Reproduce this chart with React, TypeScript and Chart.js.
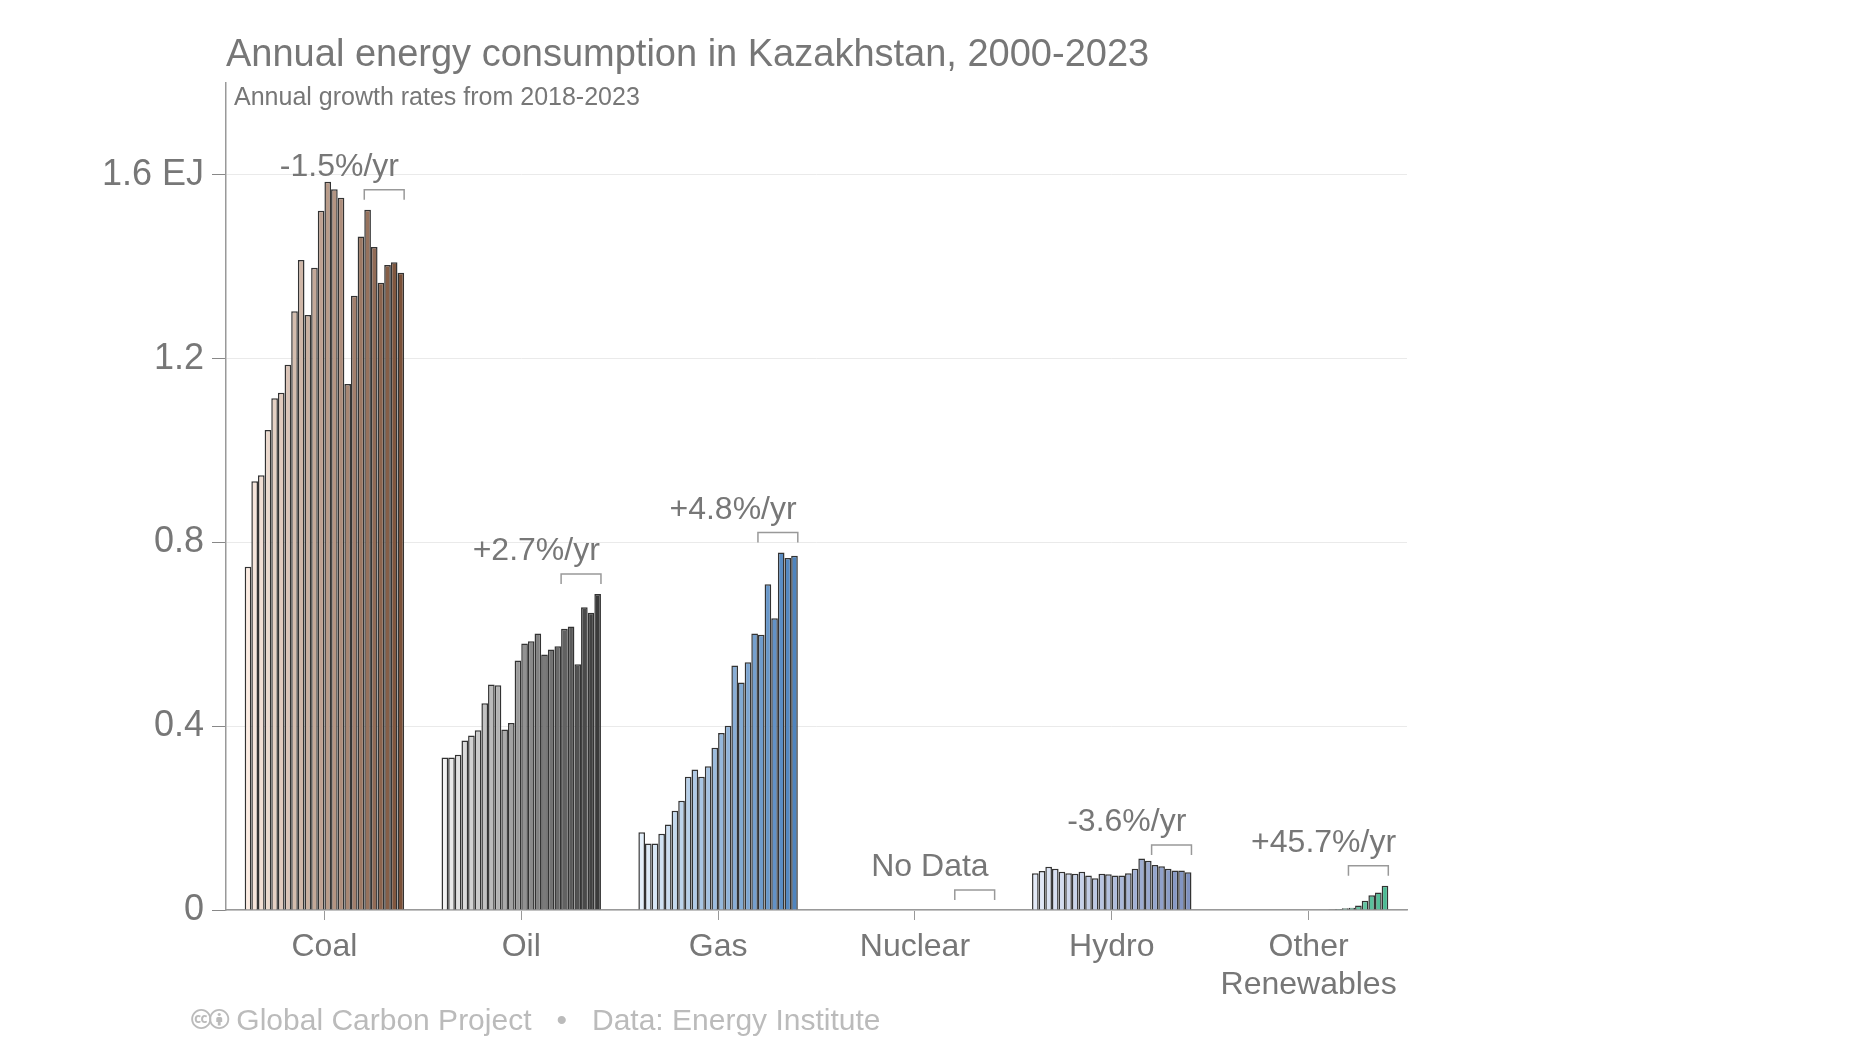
import { useEffect, useRef } from "react"
import { Chart, registerables, type ChartConfiguration } from "chart.js"

Chart.register(...registerables)

const categories = ["Coal", "Oil", "Gas", "Nuclear", "Hydro", ["Other", "Renewables"]]
const years = Array.from({ length: 24 }, (_, i) => 2000 + i)

const coal = [0.747, 0.933, 0.946, 1.045, 1.114, 1.126, 1.187, 1.303, 1.415, 1.295, 1.398, 1.522, 1.585, 1.569, 1.55, 1.145, 1.337, 1.466, 1.524, 1.443, 1.365, 1.404, 1.41, 1.387]
const oil = [0.332, 0.332, 0.338, 0.369, 0.38, 0.391, 0.45, 0.491, 0.489, 0.393, 0.407, 0.543, 0.58, 0.585, 0.602, 0.556, 0.567, 0.574, 0.612, 0.617, 0.535, 0.659, 0.647, 0.688]
const gas = [0.169, 0.145, 0.145, 0.166, 0.186, 0.216, 0.238, 0.29, 0.306, 0.29, 0.313, 0.353, 0.385, 0.401, 0.532, 0.495, 0.539, 0.602, 0.599, 0.709, 0.635, 0.778, 0.766, 0.771]
const nuclear = [0, 0, 0, 0, 0, 0, 0, 0, 0, 0, 0, 0, 0, 0, 0, 0, 0, 0, 0, 0, 0, 0, 0, 0]
const hydro = [0.08, 0.085, 0.094, 0.09, 0.083, 0.08, 0.079, 0.083, 0.075, 0.069, 0.079, 0.078, 0.075, 0.075, 0.08, 0.09, 0.112, 0.107, 0.098, 0.095, 0.09, 0.086, 0.086, 0.082]
const otherRenewables = [0, 0, 0, 0, 0, 0, 0, 0, 0, 0, 0, 0, 0, 0, 0.001, 0.0015, 0.002, 0.004, 0.005, 0.01, 0.02, 0.032, 0.038, 0.053]
const growthLabels = ["-1.5%/yr", "+2.7%/yr", "+4.8%/yr", "No Data", "-3.6%/yr", "+45.7%/yr"]
const yTicks = [0, 0.4, 0.8, 1.2, 1.6]

const series = [coal, oil, gas, nuclear, hydro, otherRenewables]
// light -> dark colour ramp per fuel
const ramps: [number[], number[]][] = [
  [[252, 236, 226], [122, 80, 56]],
  [[242, 242, 242], [58, 58, 58]],
  [[228, 240, 251], [78, 132, 190]],
  [[90, 90, 90], [60, 60, 60]],
  [[228, 235, 249], [126, 145, 192]],
  [[232, 246, 238], [76, 187, 148]],
]

function mix(r: [number[], number[]], t: number) {
  const c = r[0].map((a, i) => Math.round(a + (r[1][i] - a) * t))
  return `rgb(${c[0]},${c[1]},${c[2]})`
}

const FONT = "Helvetica, 'Liberation Sans', Arial, sans-serif"

const annotations = {
  id: "annotations",
  afterDatasetsDraw(chart: Chart) {
    const { ctx } = chart
    const y = chart.scales.y
    const x = chart.scales.x
    ctx.save()
    series.forEach((vals, c) => {
      const first = chart.getDatasetMeta(18).data[c] as any
      const last = chart.getDatasetMeta(23).data[c] as any
      const x0 = first.x - first.width / 2
      const x1 = last.x + last.width / 2
      const top = y.getPixelForValue(Math.max(...vals.slice(18))) - 20
      ctx.strokeStyle = "#999"
      ctx.lineWidth = 1.5
      ctx.beginPath()
      ctx.moveTo(x0, top + 10)
      ctx.lineTo(x0, top)
      ctx.lineTo(x1, top)
      ctx.lineTo(x1, top + 10)
      ctx.stroke()
      ctx.fillStyle = "#777"
      ctx.font = `32px ${FONT}`
      ctx.textAlign = "center"
      ctx.textBaseline = "alphabetic"
      ctx.fillText(growthLabels[c], x.getPixelForValue(c) + 15, top - 14)
    })
    ctx.restore()
  },
  afterDraw(chart: Chart) {
    const { ctx } = chart
    ctx.save()
    ctx.fillStyle = "#777"
    ctx.textAlign = "left"
    ctx.textBaseline = "middle"
    ctx.font = `38px ${FONT}`
    ctx.fillText("Annual energy consumption in Kazakhstan, 2000-2023", 226, 56)
    ctx.font = `25px ${FONT}`
    ctx.fillText("Annual growth rates from 2018-2023", 234, 98)
    ctx.fillStyle = "#bbb"
    ctx.font = `30px ${FONT}`
    ctx.fillText("🅭🅯 Global Carbon Project   •   Data: Energy Institute", 192, 1022)
    ctx.restore()
  },
}

export default function App() {
  const ref = useRef<HTMLCanvasElement>(null)

  useEffect(() => {
    if (!ref.current) return
    const datasets = years.map((yr, i) => ({
      label: String(yr),
      data: series.map((s) => s[i]),
      backgroundColor: ramps.map((r) => mix(r, i / 23)),
      borderColor: "#333",
      borderWidth: 1.5,
      categoryPercentage: 0.81,
      barPercentage: 1,
    }))

    const config: ChartConfiguration = {
      type: "bar",
      data: { labels: categories as any, datasets },
      options: {
        animation: false,
        responsive: false,
        layout: { padding: { top: 83, right: 445, bottom: 30, left: 0 } },
        plugins: { legend: { display: false }, tooltip: { enabled: false }, title: { display: false } },
        scales: {
          x: {
            grid: { display: true, drawOnChartArea: false, tickLength: 10, tickColor: "#999", offset: false },
            border: { color: "#999", width: 1.5 },
            ticks: { color: "#777", font: { size: 32, family: FONT }, padding: 8 },
            afterFit: (s: any) => { s.height = 102 },
          },
          y: {
            min: 0,
            max: 1.8,
            afterBuildTicks: (s: any) => { s.ticks = yTicks.map((v) => ({ value: v })) },
            grid: { color: "#eaeaea", tickColor: "#888", tickLength: 14 },
            border: { color: "#999", width: 1.5 },
            ticks: {
              color: "#777",
              font: { size: 36, family: FONT },
              padding: 8,
              callback: (v: any) => (v === 0 ? "0" : v === 1.6 ? "1.6 EJ" : Number(v).toFixed(1)),
            },
            afterFit: (s: any) => { s.width = 226 },
          },
        },
      },
      plugins: [annotations],
    }
    const chart = new Chart(ref.current, config)
    return () => chart.destroy()
  }, [])

  return (
    <div style={{ position: "fixed", left: 0, top: 0, width: 1852, height: 1042, background: "#fff" }}>
      <canvas ref={ref} width={1852} height={1042} />
    </div>
  )
}
